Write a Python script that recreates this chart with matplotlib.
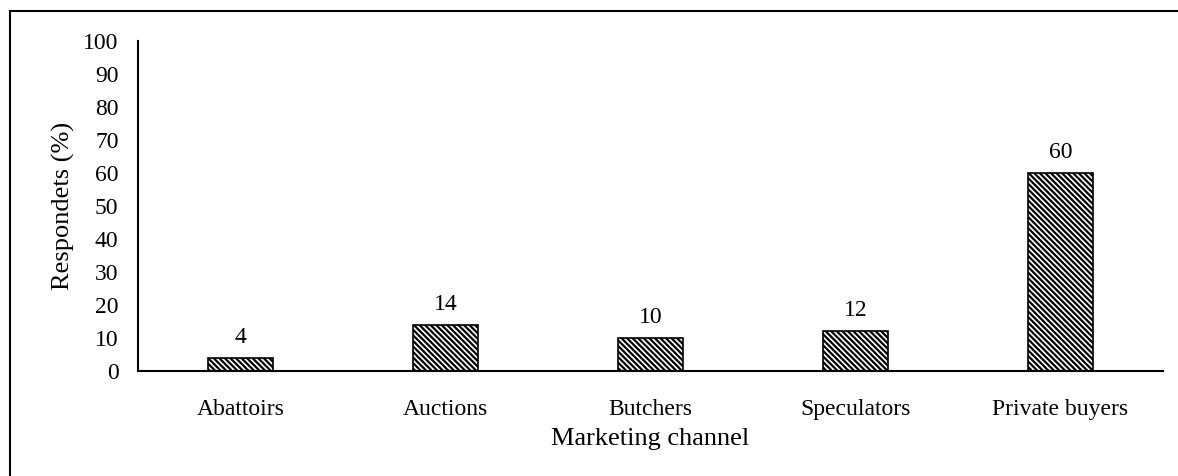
import matplotlib
matplotlib.use("Agg")
import matplotlib.pyplot as plt
from matplotlib.lines import Line2D

categories = ["Abattoirs", "Auctions", "Butchers", "Speculators", "Private buyers"]
values = [4, 14, 10, 12, 60]
yticks = [0, 10, 20, 30, 40, 50, 60, 70, 80, 90, 100]

plt.rcParams['font.family'] = ['Liberation Serif', 'DejaVu Serif']
plt.rcParams['hatch.linewidth'] = 1.6

fig = plt.figure(figsize=(11.78, 4.76), dpi=100)
ax = fig.add_axes([138/1178, 1-371/476, (1163-138)/1178, (371-41)/476])

x = list(range(len(categories)))
bars = ax.bar(x, values, width=0.32, color='white', edgecolor='black',
              hatch='\\\\\\\\\\\\', linewidth=1.2)
for xi, v in zip(x, values):
    ax.text(xi, v + 3, str(v), ha='center', va='bottom', fontsize=17)

ax.set_xlim(-0.5, len(categories) - 0.5)
ax.set_ylim(0, 100)
ax.set_yticks(yticks)
ax.set_xticks(x)
ax.set_xticklabels(categories)
ax.tick_params(axis='both', length=0, labelsize=17)
ax.tick_params(axis='x', pad=20)
ax.tick_params(axis='y', pad=14)
for s in ['top', 'right']:
    ax.spines[s].set_visible(False)
ax.spines['left'].set_linewidth(1.5)
ax.spines['bottom'].set_linewidth(1.5)
ax.set_xlabel("Marketing channel", fontsize=19, labelpad=6)
ax.set_ylabel("Respondets (%)", fontsize=19, labelpad=6)

# figure border (top and left visible)
fig.add_artist(Line2D([10/1178, 1.0], [1-11/476, 1-11/476], transform=fig.transFigure,
                      color='black', linewidth=1.5))
fig.add_artist(Line2D([10/1178, 10/1178], [0, 1-11/476], transform=fig.transFigure,
                      color='black', linewidth=1.5))

fig.savefig("out.png", dpi=100)
